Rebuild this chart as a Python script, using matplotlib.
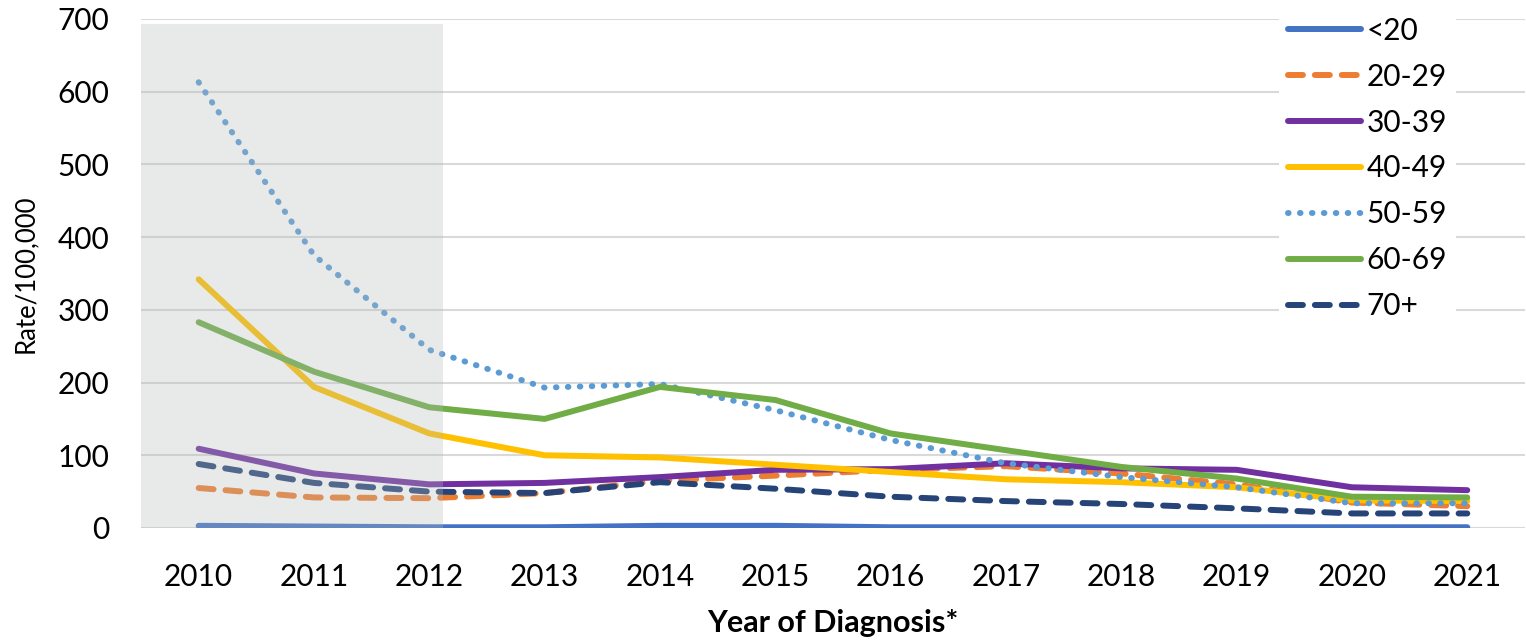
import matplotlib
matplotlib.use("agg")
import matplotlib.pyplot as plt
from matplotlib.patches import Rectangle

plt.rcParams['font.family'] = ['Lato', 'DejaVu Sans']

years = [2010, 2011, 2012, 2013, 2014, 2015, 2016, 2017, 2018, 2019, 2020, 2021]
age_groups = ['<20', '20-29', '30-39', '40-49', '50-59', '60-69', '70+']

rate_lt20 = [3, 2, 1, 1, 3, 3, 1, 1, 1, 1, 1, 1]
rate_20_29 = [55, 42, 41, 48, 65, 72, 80, 85, 75, 60, 35, 30]
rate_30_39 = [109, 75, 60, 62, 70, 80, 81, 89, 82, 80, 56, 52]
rate_40_49 = [342, 194, 130, 100, 97, 87, 77, 67, 63, 56, 38, 37]
rate_50_59 = [613, 375, 245, 193, 198, 162, 121, 89, 70, 56, 34, 34]
rate_60_69 = [283, 215, 166, 150, 194, 176, 130, 107, 84, 68, 43, 42]
rate_70p = [88, 62, 50, 48, 63, 54, 43, 37, 33, 27, 20, 20]

series = [rate_lt20, rate_20_29, rate_30_39, rate_40_49, rate_50_59, rate_60_69, rate_70p]
colors = ['#4472C4', '#ED7D31', '#7030A0', '#FFC000', '#5B9BD5', '#70AD47', '#264478']
styles = ['solid', (0, (2.5, 2)), 'solid', 'solid', (0, (0.1, 1.9)), 'solid', (0, (2.5, 2))]

fig = plt.figure(figsize=(15.26, 6.41), dpi=100)
ax = fig.add_axes([0.0924, 0.1763, 0.9069, 0.7941])

x = list(range(len(years)))
for vals, name, c, ls in zip(series, age_groups, colors, styles):
    ax.plot(x, vals, color=c, linestyle=ls, linewidth=4.3, label=name,
            solid_capstyle='round', dash_capstyle='round', zorder=3)

# shaded period drawn over the lines so they look faded
ax.add_patch(Rectangle((-0.5, 0), 2.62, 693, facecolor='#b5bbb8', alpha=0.3,
                       edgecolor='none', zorder=4))

ax.set_xlim(-0.5, len(years) - 0.5)
ax.set_ylim(0, 700)
ax.set_yticks(range(0, 701, 100))
ax.set_xticks(x)
ax.set_xticklabels([str(y) for y in years])
ax.grid(axis='y', color='#D9D9D9', linewidth=1.5, zorder=0)
ax.set_axisbelow(True)
for s in ax.spines.values():
    s.set_visible(False)
ax.tick_params(length=0, labelsize=21.5, colors='black')
ax.tick_params(axis='x', pad=25)
ax.tick_params(axis='y', pad=23)

ax.set_ylabel('Rate/100,000', fontsize=18.5, labelpad=14)
ax.set_xlabel('Year of Diagnosis*', fontsize=22, fontweight='bold', labelpad=13)

leg = ax.legend(loc='upper left', bbox_to_anchor=(0.822, 1.022), frameon=True,
                fontsize=21.5, handlelength=2.45, handletextpad=0.2,
                labelspacing=0.6, borderpad=0.3, borderaxespad=0)
leg.get_frame().set_facecolor('white')
leg.get_frame().set_edgecolor('none')
leg.get_frame().set_alpha(1)
leg.set_zorder(5)

fig.savefig('out.png', dpi=100)
